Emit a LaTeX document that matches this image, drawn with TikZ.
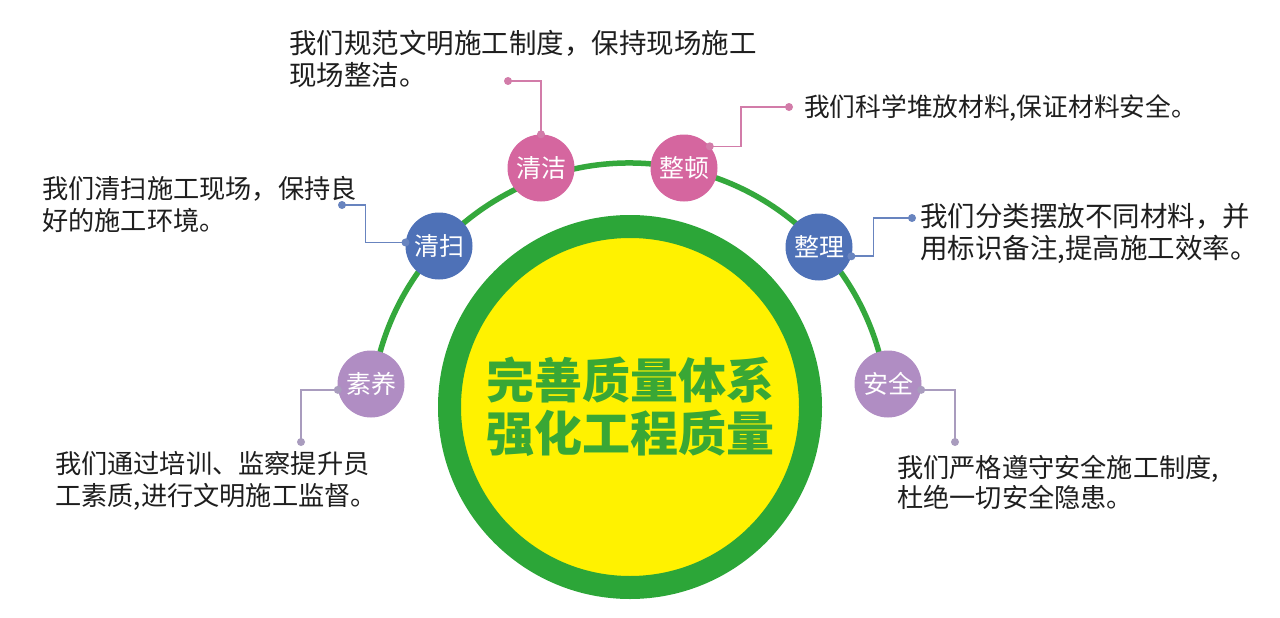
\documentclass[tikz,border=0pt]{standalone}
\usepackage{fontspec}
\setmainfont{Noto Sans CJK SC}
\usepackage{tikz}
\usetikzlibrary{positioning}

\definecolor{ringgreen}{HTML}{2CA638}
\definecolor{arcgreen}{HTML}{34A83C}
\definecolor{coreyellow}{HTML}{FFF200}
\definecolor{titlegreen}{HTML}{39A735}
\definecolor{pinkfill}{HTML}{D5669F}
\definecolor{pinkline}{HTML}{D27CA9}
\definecolor{bluefill}{HTML}{4E71B7}
\definecolor{blueline}{HTML}{6884BF}
\definecolor{purplefill}{HTML}{B08DC3}
\definecolor{purpleline}{HTML}{A99CBE}
\definecolor{notetext}{HTML}{1E1E1E}

\begin{document}
\begin{tikzpicture}[x=1pt, y=-1pt,
  badge/.style={circle, minimum size=67pt, inner sep=0pt, text=white,
    font=\fontsize{25}{25}\selectfont},
  conn/.style={line width=1.6pt},
  note/.style={anchor=west, align=left, inner sep=0pt, text=notetext}]

  \useasboundingbox[fill=white] (0,0) rectangle (1280,618);

  % Arc through the badges
  \draw[arcgreen, line width=5.5pt] ([shift={(188:259)}]629.5,422)
    arc[start angle=188, end angle=352, radius=259];

  % Centre disc
  \node[circle, draw=ringgreen, line width=23pt, fill=coreyellow,
    minimum size=361pt, inner sep=0pt, align=center, text=titlegreen,
    font=\bfseries\fontsize{48}{53}\selectfont] (core) at (630,407)
    {完善质量体系\\强化工程质量};

  % Badges
  \node[badge, fill=purplefill] (suyang)   at (371,384) {素养};
  \node[badge, fill=bluefill]   (qingsao)  at (439,246) {清扫};
  \node[badge, fill=pinkfill]   (qingjie)  at (541,168) {清洁};
  \node[badge, fill=pinkfill]   (zhengdun) at (684,168) {整顿};
  \node[badge, fill=bluefill]   (zhengli)  at (819,247) {整理};
  \node[badge, fill=purplefill] (anquan)   at (888,384) {安全};

  % Leader ends
  \coordinate (suyang-end)   at (301,442);
  \coordinate (qingsao-end)  at (342,205);
  \coordinate (qingjie-end)  at (508,81);
  \coordinate (zhengdun-end) at (789,107);
  \coordinate (zhengli-end)  at (912,218);
  \coordinate (anquan-end)   at (955,442);

  % Leaders
  \draw[conn, purpleline] (suyang.190) -| (suyang-end);
  \draw[conn, blueline] (qingsao.174) -- ++(-40,0) |- (qingsao-end);
  \draw[conn, pinkline] (qingjie.north) |- (qingjie-end);
  \draw[conn, pinkline] (zhengdun.40) -- ++(31,0) |- (zhengdun-end);
  \draw[conn, blueline] (zhengli.-16) -- ++(22,0) |- (zhengli-end);
  \draw[conn, purpleline] (anquan.-10) -| (anquan-end);

  \fill[purpleline] (suyang.190) circle[radius=4] (suyang-end) circle[radius=4];
  \fill[blueline] (qingsao.174) circle[radius=4] (qingsao-end) circle[radius=4];
  \fill[pinkline] (qingjie.north) circle[radius=4] (qingjie-end) circle[radius=4];
  \fill[pinkline] (zhengdun.40) circle[radius=4] (zhengdun-end) circle[radius=4];
  \fill[blueline] (zhengli.-16) circle[radius=4] (zhengli-end) circle[radius=4];
  \fill[purpleline] (anquan.-10) circle[radius=4] (anquan-end) circle[radius=4];

  % Notes
  \node[note, font=\fontsize{26.2}{32}\selectfont] (suyang-note) at (55,481)
    {我们通过培训、监察提升员\\工素质,进行文明施工监督。};
  \node[note, font=\fontsize{26.2}{32}\selectfont] (qingsao-note) at (42,204)
    {我们清扫施工现场，保持良\\好的施工环境。};
  \node[note, font=\fontsize{27.5}{32}\selectfont] (qingjie-note) at (289,59)
    {我们规范文明施工制度，保持现场施工\\现场整洁。};
  \node[note, font=\fontsize{25.7}{32}\selectfont] (zhengdun-note) at (804,108)
    {我们科学堆放材料,保证材料安全。};
  \node[note, font=\fontsize{27.5}{32}\selectfont] (zhengli-note) at (920,234)
    {我们分类摆放不同材料，并\\用标识备注,提高施工效率。};
  \node[note, font=\fontsize{26.2}{30}\selectfont] (anquan-note) at (897,482)
    {我们严格遵守安全施工制度,\\杜绝一切安全隐患。};
\end{tikzpicture}
\end{document}
